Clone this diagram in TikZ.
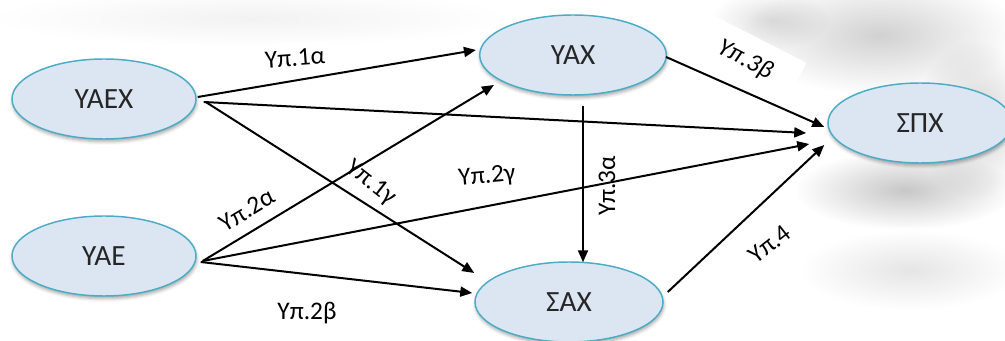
\documentclass[tikz,border=0pt]{standalone}
\usepackage{fontspec}
\setmainfont{Carlito}
\usetikzlibrary{arrows.meta,calc,fadings,shadows.blur,shapes.geometric}

\definecolor{varfill}{HTML}{DCE6F2}
\definecolor{varline}{HTML}{4BACC6}
\definecolor{varink}{HTML}{262626}

% soft round blot used for the grey haze behind the right-hand side
\tikzfading[name=softblob, inner color=transparent!0, outer color=transparent!100]

\begin{document}
\begin{tikzpicture}[x=0.75pt,y=-0.75pt,
  var/.style={ellipse, draw=varline, line width=1.1pt, fill=varfill,
    minimum width=138pt, minimum height=60pt, inner sep=0pt,
    font=\fontsize{22}{26}\selectfont, text=varink,
    blur shadow={shadow xshift=0.5pt, shadow yshift=-2pt,
                 shadow blur radius=2.5pt, shadow opacity=35}},
  link/.style={-{Triangle[length=9pt,width=7.5pt]}, line width=1.5pt},
  hyp/.style={fill=white, inner sep=5pt, font=\fontsize{19}{23}\selectfont},
  haze/.style={fill=black, path fading=softblob}
]
\useasboundingbox (0,0) rectangle (1005,341);

% grey haze
\fill[haze, opacity=0.05] (250,18) ellipse [x radius=260, y radius=28];
\fill[haze, opacity=0.18] (880,35) ellipse [x radius=140, y radius=60];
\fill[haze, opacity=0.18] (975,120) ellipse [x radius=60, y radius=80];
\fill[haze, opacity=0.22] (905,190) ellipse [x radius=110, y radius=40];
\fill[haze, opacity=0.10] (910,270) ellipse [x radius=110, y radius=40];
\fill[haze, opacity=0.12] (770,20) ellipse [x radius=60, y radius=30];

% hypothesis labels
\node[hyp, rotate=4]   (h1a) at (295,58)  {Υπ.1α};
\node[hyp, rotate=31]  (h2a) at (247,210) {Υπ.2α};
\node[hyp, rotate=-38, fill=none] (h1c) at (371,183) {Υπ.1γ};
\node[hyp, rotate=5]   (h2c) at (487,177) {Υπ.2γ};
\node[hyp]             (h2b) at (307,313) {Υπ.2β};
\node[hyp, rotate=90, fill=none] (h3a) at (607,186) {Υπ.3α};
\node[hyp, rotate=-27, minimum width=84pt, minimum height=38pt,
      font=\fontsize{19}{23}\selectfont\itshape] (h3b) at (745,60) {Υπ.3β};
\node[hyp, rotate=38, minimum width=70pt, minimum height=32pt] (h4) at (770,244) {Υπ.4};

% variables
\node[var] (yaex) at (104,99)  {ΥΑΕΧ};
\node[var] (yae)  at (104,256) {ΥΑΕ};
\node[var, minimum width=140pt] (yax) at (573,55)  {ΥΑΧ};
\node[var, minimum width=141pt] (sax) at (569,302) {ΣΑΧ};
\node[var] (spx)  at (920,123) {ΣΠΧ};

% paths
\draw[link] ($(yaex.east)+(1,-2)$) -- ($(yax.west)+(-3,-5)$);
\draw[link] ($(yaex.east)+(7,3)$)  -- ($(spx.west)+(-21,10)$);
\draw[link] ($(yaex.east)+(9,3)$)  -- ($(sax.west)+(0,-29)$);
\draw[link] ($(yae.east)+(6,5)$)   -- ($(yax.west)+(15,30)$);
\draw[link] ($(yae.east)+(6,5)$)   -- ($(spx.west)+(-18,21)$);
\draw[link] ($(yae.east)+(4,6)$)   -- ($(sax.west)+(-2,-9)$);
\draw[link] ($(yax.south)+(10,10)$) -- ($(sax.north)+(14,1)$);
\draw[link] ($(yax.east)+(-1,2)$)  -- ($(spx.west)+(-3,4)$);
\draw[link] ($(sax.east)+(4,-10)$) -- ($(spx.west)+(-3,22)$);
\end{tikzpicture}
\end{document}
